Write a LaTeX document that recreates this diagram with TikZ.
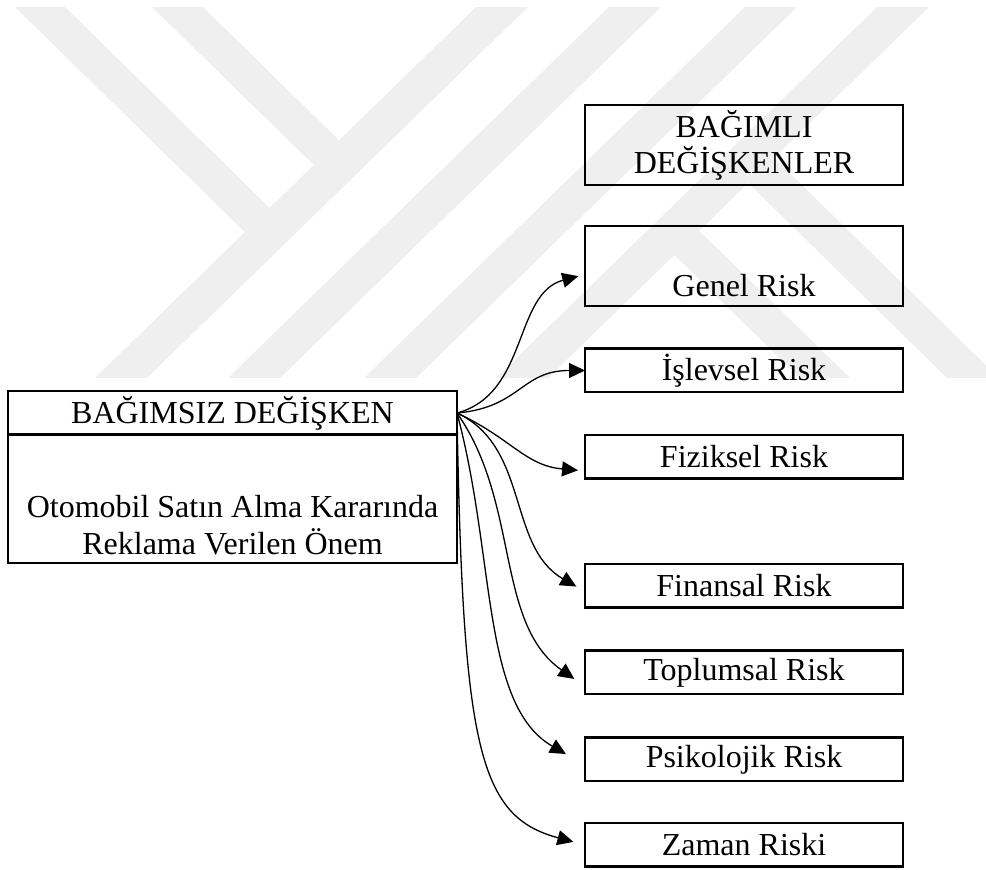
\documentclass[tikz,border=0pt]{standalone}
\usepackage{fontspec}
\setmainfont{Liberation Serif}
\usetikzlibrary{arrows.meta}
\definecolor{filigran}{RGB}{239,239,239}

\begin{document}
\begin{tikzpicture}[x=0.5pt,y=0.5pt,
    kutu/.style={draw,line width=1.25pt,rectangle,outer sep=0pt,inner sep=2.5pt,
      font=\fontsize{16}{18}\selectfont},
    riskkutu/.style={kutu,minimum width=159pt,minimum height=21.75pt},
    ok/.style={-{Triangle[length=8pt,width=7.5pt]},line width=0.65pt}]
    \useasboundingbox (0,0) rectangle (986,-870);

    % filigran
    \begin{scope}
        \clip (10,-7) rectangle (986,-378);
        \fill[filigran] (15,-7)--(65,-7)--(283,-221)--(258,-245)--cycle;
        \fill[filigran] (152,-7)--(203,-7)--(352,-153)--(327,-178)--cycle;
        \foreach \b in {95,228,364,496}
            \fill[filigran] (\b,-378)--(\b+52,-378)--(\b+433,-7)--(\b+381,-7)--cycle;
        \fill[filigran] (661,-242)--(686,-218)--(850,-378)--(800,-378)--cycle;
        \fill[filigran] (735,-170)--(761,-145)--(999,-378)--(947,-378)--cycle;
    \end{scope}

    % bagimli degiskenler
    \node[kutu,minimum width=159pt,minimum height=37pt,align=center] (bagimli) at (744,-145) {BAĞIMLI\\DEĞİŞKENLER};
    \node[riskkutu,minimum height=40pt,text height=33pt,text depth=2pt] (genel) at (744,-266) {Genel Risk};
    \node[riskkutu] (islevsel) at (744,-370.5) {İşlevsel Risk};
    \node[riskkutu] (fiziksel) at (744,-457) {Fiziksel Risk};
    \node[riskkutu] (finansal) at (744,-586) {Finansal Risk};
    \node[riskkutu] (toplumsal) at (744,-672.5) {Toplumsal Risk};
    \node[riskkutu] (psikolojik) at (744,-759.5) {Psikolojik Risk};
    \node[riskkutu] (zaman) at (744,-845) {Zaman Riski};

    % bagimsiz degisken
    \node[kutu,minimum width=224.5pt,minimum height=21pt] (bagimsiz) at (232.5,-413) {BAĞIMSIZ DEĞİŞKEN};
    \node[kutu,minimum width=224.5pt,minimum height=64.5pt] (onem) at (232.5,-498.5) {};
    \node[align=center,anchor=south,inner sep=0pt,font=\fontsize{16}{18.5}\selectfont] (onemyazi) at (232.5,-555)
        {Otomobil Satın Alma Kararında\\Reklama Verilen Önem};

    % oklar
    \draw[ok,shorten >=3.5pt] (bagimsiz.east) to [out=15,in=195,distance=37pt] (genel.183);
    \draw[ok] (bagimsiz.east) to [out=5,in=180,distance=32pt] (islevsel.west);
    \draw[ok,shorten >=3.5pt] (bagimsiz.east) to [out=-25,in=175,distance=30pt] (fiziksel.185);
    \draw[ok,shorten >=5pt] (bagimsiz.east) to [out=-25,in=150,out distance=40pt,in distance=45pt] (finansal.182);
    \draw[ok,shorten >=6.5pt] (bagimsiz.east) to [out=-55,in=145,distance=55pt] (toplumsal.185);
    \draw[ok,shorten >=11pt] (bagimsiz.east) to [out=-75,in=150,out distance=75pt,in distance=60pt] (psikolojik.182);
    \draw[ok,shorten >=6pt] (bagimsiz.east) to [out=-89,in=165,out distance=168pt,in distance=55pt] (zaman.west);
\end{tikzpicture}
\end{document}
